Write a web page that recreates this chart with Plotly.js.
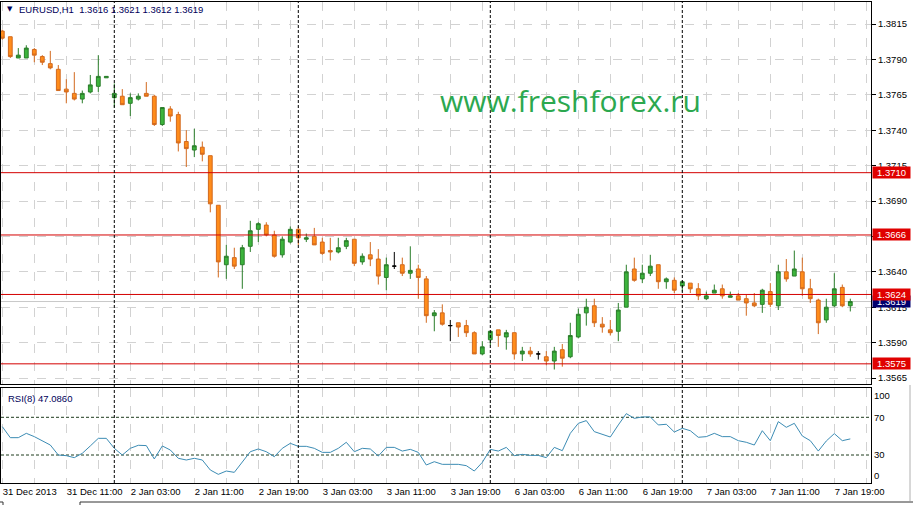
<!DOCTYPE html>
<html>
<head>
<meta charset="utf-8">
<script src="https://cdn.plot.ly/plotly-3.0.1.min.js"></script>
<style>html,body{margin:0;padding:0;background:#fff;}#chart{width:913px;height:505px;}</style>
</head>
<body>
<div id="chart"></div>
<script>
// ---- DATA (EURUSD H1, 107 bars) ----
const barIndex = Array.from({length: 107}, (_, i) => i);
const openPrices = [1.3810,1.3806,1.3791,1.3791,1.3797,1.3792,1.3787,1.3783,1.3769,1.3766,
1.3762,1.3767,1.3771,1.3777,1.3763,1.3764,1.3759,1.3762,1.3766,1.3764,
1.3744,1.3755,1.3751,1.3732,1.3726,1.3728,1.3722,1.3687,1.3645,1.3650,
1.3645,1.3658,1.3670,1.3673,1.3666,1.3652,1.3661,1.3670,1.3663,1.3665,
1.3661,1.3655,1.3654,1.3658,1.3663,1.3647,1.3652,1.3649,1.3636,1.3644,
1.3645,1.3639,1.3642,1.3635,1.3609,1.3611,1.3602,1.3604,1.3602,1.3597,
1.3582,1.3592,1.3599,1.3594,1.3597,1.3582,1.3584,1.3582,1.3580,1.3577,
1.3585,1.3580,1.3594,1.3611,1.3616,1.3603,1.3599,1.3598,1.3615,1.3642,
1.3635,1.3639,1.3645,1.3633,1.3634,1.3630,1.3632,1.3628,1.3621,1.3625,
1.3628,1.3622,1.3623,1.3621,1.3618,1.3617,1.3626,1.3616,1.3640,1.3637,
1.3640,1.3628,1.3620,1.3606,1.3616,1.3629,1.3616];
const highPrices = [1.3811,1.3806,1.3798,1.3800,1.3798,1.3793,1.3796,1.3786,1.3776,1.3781,
1.3768,1.3779,1.3793,1.3778,1.3773,1.3769,1.3766,1.3766,1.3774,1.3765,
1.3756,1.3757,1.3753,1.3740,1.3741,1.3732,1.3722,1.3687,1.3659,1.3657,
1.3659,1.3676,1.3675,1.3675,1.3669,1.3665,1.3672,1.3672,1.3667,1.3671,
1.3664,1.3664,1.3664,1.3664,1.3663,1.3653,1.3661,1.3656,1.3650,1.3654,
1.3650,1.3658,1.3645,1.3637,1.3613,1.3617,1.3606,1.3604,1.3606,1.3598,
1.3591,1.3598,1.3599,1.3599,1.3597,1.3587,1.3587,1.3584,1.3584,1.3587,
1.3589,1.3604,1.3614,1.3621,1.3621,1.3608,1.3606,1.3618,1.3645,1.3650,
1.3645,1.3652,1.3645,1.3636,1.3636,1.3634,1.3632,1.3632,1.3626,1.3631,
1.3631,1.3626,1.3625,1.3624,1.3625,1.3628,1.3632,1.3645,1.3649,1.3655,
1.3650,1.3635,1.3621,1.3621,1.3639,1.3631,1.3621];
const lowPrices = [1.3804,1.3791,1.3791,1.3791,1.3788,1.3786,1.3783,1.3768,1.3759,1.3761,
1.3759,1.3766,1.3767,1.3777,1.3756,1.3758,1.3750,1.3761,1.3764,1.3743,
1.3743,1.3746,1.3725,1.3714,1.3721,1.3718,1.3682,1.3636,1.3635,1.3642,
1.3628,1.3654,1.3661,1.3665,1.3650,1.3650,1.3660,1.3659,1.3661,1.3659,
1.3652,1.3648,1.3653,1.3656,1.3644,1.3645,1.3644,1.3631,1.3627,1.3642,
1.3637,1.3635,1.3621,1.3604,1.3598,1.3602,1.3591,1.3594,1.3594,1.3582,
1.3581,1.3588,1.3587,1.3585,1.3578,1.3577,1.3580,1.3578,1.3574,1.3571,
1.3573,1.3579,1.3593,1.3602,1.3601,1.3597,1.3595,1.3591,1.3615,1.3633,
1.3632,1.3637,1.3628,1.3628,1.3625,1.3626,1.3625,1.3620,1.3620,1.3625,
1.3621,1.3622,1.3620,1.3609,1.3615,1.3611,1.3615,1.3613,1.3633,1.3637,
1.3623,1.3618,1.3596,1.3604,1.3615,1.3615,1.3612];
const closePrices = [1.3805,1.3792,1.3793,1.3798,1.3793,1.3788,1.3784,1.3768,1.3767,1.3762,
1.3766,1.3772,1.3778,1.3778,1.3766,1.3758,1.3763,1.3764,1.3764,1.3744,
1.3756,1.3750,1.3731,1.3727,1.3729,1.3723,1.3688,1.3647,1.3651,1.3644,
1.3657,1.3669,1.3674,1.3666,1.3651,1.3663,1.3670,1.3664,1.3664,1.3659,
1.3653,1.3654,1.3657,1.3662,1.3646,1.3651,1.3649,1.3637,1.3645,1.3644,
1.3639,1.3641,1.3636,1.3609,1.3611,1.3603,1.3602,1.3601,1.3597,1.3582,
1.3587,1.3598,1.3595,1.3597,1.3582,1.3584,1.3582,1.3582,1.3577,1.3584,
1.3579,1.3595,1.3610,1.3615,1.3604,1.3601,1.3597,1.3613,1.3640,1.3634,
1.3639,1.3644,1.3633,1.3635,1.3627,1.3633,1.3628,1.3623,1.3623,1.3627,
1.3623,1.3623,1.3620,1.3618,1.3616,1.3627,1.3617,1.3640,1.3635,1.3642,
1.3628,1.3621,1.3604,1.3615,1.3628,1.3616,1.3619];
const rsiValues = [60.1,48.4,48.4,53.0,49.5,44.9,40.6,30.0,29.3,27.2,
31.8,39.6,47.7,47.7,37.1,30.0,37.1,40.3,40.0,25.8,
39.6,35.3,26.5,24.7,26.5,24.7,14.1,9.5,13.0,11.6,
22.2,33.5,36.4,33.5,28.2,37.1,42.4,39.2,39.2,37.1,
32.8,32.8,37.1,43.5,33.5,37.1,36.4,28.9,38.1,38.1,
34.2,36.0,32.8,19.4,22.9,20.1,20.1,20.1,18.7,13.0,
22.2,36.0,34.2,38.1,29.3,30.7,29.6,29.6,27.2,38.1,
34.6,53.0,63.6,66.5,54.8,52.3,49.1,61.9,73.9,68.9,
70.4,70.4,61.9,62.6,54.4,58.3,55.8,48.8,49.5,53.0,
49.5,49.5,45.2,43.5,40.6,55.8,45.2,65.4,59.4,63.6,
50.2,45.2,34.2,44.9,52.7,45.2,47.086];
const timeTickBars = [0,8,16,24,32,40,48,56,64,72,80,88,96,104];
const timeTickLabels = ['31 Dec 2013','31 Dec 11:00','2 Jan 03:00','2 Jan 11:00','2 Jan 19:00',
  '3 Jan 03:00','3 Jan 11:00','3 Jan 19:00','6 Jan 03:00','6 Jan 11:00','6 Jan 19:00',
  '7 Jan 03:00','7 Jan 11:00','7 Jan 19:00'];
const daySeparatorBars = [14, 37, 61, 85];
const priceTicks = [1.3565,1.3590,1.3615,1.3640,1.3665,1.3690,1.3715,1.3740,1.3765,1.3790,1.3815];
const levelLines = [1.3710, 1.3666, 1.3624, 1.3575];
const bidPrice = 1.3619;
const rsiLevels = [70, 30];
const headerText = 'EURUSD,H1\u00a0\u00a01.3616 1.3621 1.3612 1.3619';
const rsiLabel = 'RSI(8) 47.0860';
const watermark = 'www.freshforex.ru';

// ---- split candles by direction ----
function subset(cond) {
  const x=[],o=[],h=[],l=[],c=[];
  barIndex.forEach(i => { if (cond(openPrices[i], closePrices[i])) {
    x.push(i); o.push(openPrices[i]); h.push(highPrices[i]); l.push(lowPrices[i]); c.push(closePrices[i]); }});
  return {x, open:o, high:h, low:l, close:c};
}
function candleTrace(d, fill, line) {
  return Object.assign({type:'candlestick', xaxis:'x', yaxis:'y', hoverinfo:'skip', whiskerwidth:0,
    increasing:{fillcolor:fill, line:{color:line, width:1}},
    decreasing:{fillcolor:fill, line:{color:line, width:1}}}, d);
}
const bull = subset((o,c) => c > o);
const bear = subset((o,c) => c < o);
const doji = subset((o,c) => c === o);

const traces = [
  candleTrace(bull, '#3cb43c', '#2a7d2a'),
  candleTrace(bear, '#ff8c1a', '#d2691e'),
  candleTrace(doji, '#000000', '#000000'),
  {type:'scatter', mode:'lines', x:barIndex, y:rsiValues, xaxis:'x2', yaxis:'y2',
   line:{color:'#3c8cb4', width:1}, hoverinfo:'skip'}
];

// ---- geometry ----
const W = 913, H = 505, mL = 1, mR = 42, mT = 2, mB = 22;
const pw = W - mL - mR, ph = H - mT - mB;
const pxPerBar = 8, firstBarPx = 2.3;
const xr0 = -(firstBarPx - mL) / pxPerBar, xr1 = xr0 + pw / pxPerBar;
const mainTopPx = 2, mainBotPx = 384, rsiTopPx = 388, rsiBotPx = 483;
const pxPerPrice = 14160, refPrice = 1.3815, refPx = 24;
const yTop = refPrice + (refPx - mainTopPx) / pxPerPrice;
const yBot = refPrice - (mainBotPx - refPx) / pxPerPrice;
const py = p => (H - mB - p) / ph;   // page px -> paper y
const px = p => (p - mL) / pw;        // page px -> paper x

const gridVals = []; for (let v = 0; v <= 108; v += 4) gridVals.push(v);
const gridText = gridVals.map(v => { const k = timeTickBars.indexOf(v); return k >= 0 ? timeTickLabels[k] : ''; });

const fontFam = 'Liberation Sans, Arial, sans-serif';
const shapes = [];
levelLines.forEach(v => shapes.push({type:'line', xref:'paper', x0:0, x1:1, yref:'y', y0:v, y1:v, line:{color:'#d40000', width:1}, layer:'above'}));
shapes.push({type:'line', xref:'paper', x0:0, x1:1, yref:'y', y0:bidPrice, y1:bidPrice, line:{color:'#c8c8c8', width:1}, layer:'below'});
daySeparatorBars.forEach(b => shapes.push({type:'line', xref:'x', x0:b, x1:b, yref:'paper', y0:0, y1:1, line:{color:'#000000', width:1, dash:'3px,2px'}, layer:'above'}));
rsiLevels.forEach(v => shapes.push({type:'line', xref:'paper', x0:0, x1:1, yref:'y2', y0:v, y1:v, line:{color:'#1e3c1e', width:1, dash:'3px,2px'}, layer:'below'}));
// window frame bits
shapes.push({type:'line', xref:'paper', yref:'paper', x0:px(80), x1:px(913), y0:py(502), y1:py(502), line:{color:'#333', width:1}});
shapes.push({type:'line', xref:'paper', yref:'paper', x0:px(80), x1:px(80), y0:py(502), y1:py(505), line:{color:'#333', width:1}});
shapes.push({type:'line', xref:'paper', yref:'paper', x0:px(0), x1:px(3), y0:py(502), y1:py(502), line:{color:'#333', width:1}});
shapes.push({type:'line', xref:'paper', yref:'paper', x0:px(3), x1:px(3), y0:py(502), y1:py(505), line:{color:'#333', width:1}});
shapes.push({type:'line', xref:'paper', yref:'paper', x0:px(910), x1:px(910), y0:py(385), y1:py(501), line:{color:'#b0b0b0', width:1}});

const annotations = [];
annotations.push({xref:'paper', yref:'y', x:1, y:bidPrice, xanchor:'left', xshift:1, showarrow:false,
  text:bidPrice.toFixed(4), bgcolor:'#00006e', font:{family:fontFam, size:9.5, color:'#ffffff'}, width:37, height:11, borderpad:0});
levelLines.forEach(v => annotations.push({xref:'paper', yref:'y', x:1, y:v, xanchor:'left', xshift:1, showarrow:false,
  text:v.toFixed(4), bgcolor:'#e00000', font:{family:fontFam, size:9.5, color:'#ffffff'}, width:37, height:11, borderpad:0}));
annotations.push({xref:'paper', yref:'paper', x:px(9.5), y:py(9), xanchor:'center', yanchor:'middle', showarrow:false,
  text:'\u25BC', font:{family:'DejaVu Sans, sans-serif', size:7, color:'#00005a'}});
annotations.push({xref:'paper', yref:'paper', x:px(17), y:py(9.5), xanchor:'left', yanchor:'middle', showarrow:false,
  text:headerText, font:{family:fontFam, size:9.5, color:'#00005a'}});
annotations.push({xref:'paper', yref:'paper', x:px(6), y:py(398), xanchor:'left', yanchor:'middle', showarrow:false,
  text:rsiLabel, font:{family:fontFam, size:9.5, color:'#00005a'}});
annotations.push({xref:'paper', yref:'paper', x:px(570), y:py(100), xanchor:'center', yanchor:'middle', showarrow:false,
  text:watermark, font:{family:'Open Sans, sans-serif', size:30, color:'#2ca84f'}});

const gridStyle = {showgrid:true, gridcolor:'#d2d2d2', griddash:'dash', gridwidth:1};
const layout = {
  width:W, height:H, margin:{l:mL, r:mR, t:mT, b:mB, pad:0},
  paper_bgcolor:'#ffffff', plot_bgcolor:'#ffffff', showlegend:false,
  font:{family:fontFam, size:9.5, color:'#000000'},
  boxgap:0.32,
  xaxis:Object.assign({domain:[0,1], range:[xr0,xr1], anchor:'y', tickmode:'array', tickvals:gridVals,
    showticklabels:false, ticks:'', zeroline:false, showline:true, mirror:true, linecolor:'#000000', linewidth:1,
    rangeslider:{visible:false}, fixedrange:true}, gridStyle),
  yaxis:Object.assign({domain:[(rsiBotPx-mainBotPx)/ph, 1], range:[yBot,yTop], anchor:'x', side:'right',
    tickmode:'array', tickvals:priceTicks, ticktext:priceTicks.map(v=>v.toFixed(4)),
    ticks:'outside', ticklen:4, tickcolor:'#000000', zeroline:false, showline:true, mirror:true,
    linecolor:'#000000', linewidth:1, fixedrange:true}, gridStyle),
  xaxis2:Object.assign({domain:[0,1], range:[xr0,xr1], anchor:'y2', tickmode:'array', tickvals:gridVals,
    ticktext:gridText, ticks:'', ticklabelposition:'outside right', zeroline:false, showline:true, mirror:true,
    linecolor:'#000000', linewidth:1, fixedrange:true}, gridStyle),
  yaxis2:{domain:[0,(rsiBotPx-rsiTopPx)/ph], range:[0.3,101.1], anchor:'x2', side:'right',
    tickmode:'array', tickvals:[92.6,70,30,7.7], ticktext:['100','70','30','0'], ticks:'', showgrid:false,
    zeroline:false, showline:true, mirror:true, linecolor:'#000000', linewidth:1, fixedrange:true},
  shapes:shapes, annotations:annotations
};
Plotly.newPlot('chart', traces, layout, {staticPlot:true, displayModeBar:false});
</script>
</body>
</html>
